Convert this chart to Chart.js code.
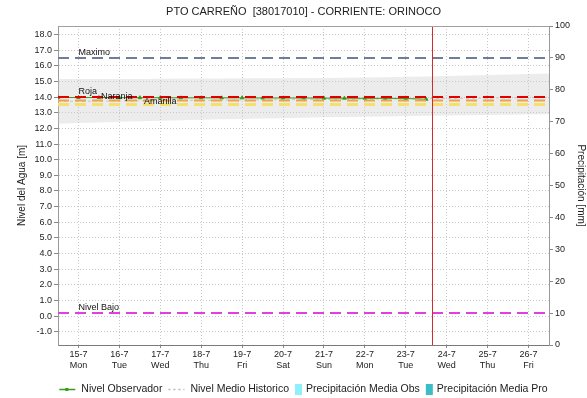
<!DOCTYPE html>
<html>
<head>
<meta charset="utf-8">
<title>PTO CARREÑO</title>
<script src="https://cdn.jsdelivr.net/npm/chart.js@4.4.1/dist/chart.umd.min.js"></script>
<style>
  body { margin: 0; background: #fff; }
  #marco { width: 587px; height: 398px; position: relative; }
</style>
</head>
<body>
<div id="marco"><canvas id="grafico"></canvas></div>
<script>
// dias del periodo (el eje x va en dias desde el 15-7)
const dias = ['15-7', '16-7', '17-7', '18-7', '19-7', '20-7', '21-7', '22-7', '23-7', '24-7', '25-7', '26-7'];
const diasSemana = ['Mon', 'Tue', 'Wed', 'Thu', 'Fri', 'Sat', 'Sun', 'Mon', 'Tue', 'Wed', 'Thu', 'Fri'];

// nivel observado cada 12 horas
const tiempoObs = [-0.5, 0, 0.5, 1, 1.5, 2, 2.5, 3, 3.5, 4, 4.5, 5, 5.5, 6, 6.5, 7, 7.5, 8, 8.5];
const nivelObs = [13.97, 13.97, 13.97, 13.96, 13.96, 13.96, 13.95, 13.95, 13.95, 13.95, 13.94, 13.94, 13.94, 13.93, 13.93, 13.92, 13.92, 13.91, 13.86];

// historico: rango y media
const tiempoHist = [-0.5, 0.5, 1.5, 2.5, 3.5, 4.5, 5.5, 6.5, 7.5, 8.5, 9.5, 10.5, 11.5];
const histMax = [15.15, 15.15, 15.16, 15.18, 15.19, 15.2, 15.22, 15.24, 15.27, 15.31, 15.37, 15.44, 15.5];
const histMin = [12.3, 12.38, 12.45, 12.52, 12.58, 12.63, 12.68, 12.72, 12.76, 12.8, 12.84, 12.87, 12.9];
const histMedio = [13.72, 13.74, 13.76, 13.78, 13.8, 13.82, 13.84, 13.86, 13.88, 13.9, 13.92, 13.95, 13.98];

// precipitacion (mm)
const precipObs = [0, 0, 0, 0, 0, 0, 0, 0, 0];
const precipPro = [0, 0, 0];

// umbrales de alerta (m)
const umbralMaximo = 16.5;
const umbralRoja = 14.0;
const umbralNaranja = 13.78;
const umbralAmarilla = 13.53;
const umbralBajo = 0.2;

const horaActual = 8.64;

const ticksNivel = [-1, 0, 1, 2, 3, 4, 5, 6, 7, 8, 9, 10, 11, 12, 13, 14, 15, 16, 17, 18];
const ticksPrecip = [0, 10, 20, 30, 40, 50, 60, 70, 80, 90, 100];

const FUENTE = '"Liberation Sans", Arial, sans-serif';
Chart.defaults.font.family = FUENTE;
Chart.defaults.color = '#222';

function horizontal(valor) {
  return [{ x: -0.5, y: valor }, { x: 11.5, y: valor }];
}
function puntos(xs, ys) {
  return xs.map((x, i) => ({ x: x, y: ys[i] }));
}

const umbrales = [
  { nombre: 'Maximo', valor: umbralMaximo, color: '#6f7d9c', dx: 0, dy: -2.5 },
  { nombre: 'Roja', valor: umbralRoja, color: '#e00000', dx: 0, dy: -3 },
  { nombre: 'Naranja', valor: umbralNaranja, color: '#f0a050', dx: 0.55, dy: -2 },
  { nombre: 'Amarilla', valor: umbralAmarilla, color: '#f5e06a', dx: 1.6, dy: 0 },
  { nombre: 'Nivel Bajo', valor: umbralBajo, color: '#e040e0', dx: 0, dy: -3 }
];

const datasets = [];
umbrales.forEach(u => {
  datasets.push({
    type: 'line', label: u.nombre, data: horizontal(u.valor), yAxisID: 'y',
    borderColor: u.color, borderWidth: u.nombre === 'Amarilla' ? 3 : 2,
    borderDash: [11, 6], pointRadius: 0, fill: false
  });
});
datasets.push({
  type: 'line', label: 'Nivel Observador', data: puntos(tiempoObs, nivelObs), yAxisID: 'y',
  borderColor: '#3a9a1a', backgroundColor: '#3a9a1a', borderWidth: 1,
  pointStyle: 'triangle', pointRadius: 2, fill: false
});
datasets.push({
  type: 'line', label: 'Nivel Medio Historico', data: puntos(tiempoHist, histMedio), yAxisID: 'y',
  borderColor: '#c8c8c8', borderWidth: 1, borderDash: [3, 3], pointRadius: 0, fill: false
});
datasets.push({
  type: 'bar', label: 'Precipitación Media Obs', data: puntos([0, 1, 2, 3, 4, 5, 6, 7, 8], precipObs),
  yAxisID: 'y1', backgroundColor: '#8ef0fa', borderWidth: 0
});
datasets.push({
  type: 'bar', label: 'Precipitación Media Pro', data: puntos([9, 10, 11], precipPro),
  yAxisID: 'y1', backgroundColor: '#3cbcc4', borderWidth: 0
});
datasets.push({
  type: 'line', label: 'histMax', data: puntos(tiempoHist, histMax), yAxisID: 'y',
  borderWidth: 0, pointRadius: 0, fill: false, cubicInterpolationMode: 'monotone'
});
datasets.push({
  type: 'line', label: 'histMin', data: puntos(tiempoHist, histMin), yAxisID: 'y',
  borderWidth: 0, pointRadius: 0, fill: '-1', backgroundColor: 'rgba(200,200,200,0.34)',
  cubicInterpolationMode: 'monotone'
});

// entradas de la leyenda (se dibuja a mano debajo del eje x)
const leyenda = [
  { texto: 'Nivel Observador', tipo: 'linea', color: '#3a9a1a', dash: [] },
  { texto: 'Nivel Medio Historico', tipo: 'linea', color: '#b8b8b8', dash: [2, 3] },
  { texto: 'Precipitación Media Obs', tipo: 'caja', color: '#8ef0fa' },
  { texto: 'Precipitación Media Pro', tipo: 'caja', color: '#3cbcc4' }
];

// titulo, marco, textos de umbrales, linea de hora actual y leyenda
const extras = {
  id: 'extras',
  beforeDraw(chart) {
    const ctx = chart.ctx, a = chart.chartArea;
    ctx.save();
    ctx.font = '11px ' + FUENTE;
    ctx.fillStyle = '#222';
    ctx.textAlign = 'center';
    ctx.textBaseline = 'middle';
    ctx.fillText('PTO CARREÑO  [38017010] - CORRIENTE: ORINOCO', (a.left + a.right) / 2, 12);
    ctx.restore();
  },
  afterDatasetsDraw(chart) {
    const ctx = chart.ctx, a = chart.chartArea;
    const sx = chart.scales.x, sy = chart.scales.y;
    ctx.save();
    ctx.setLineDash([]);
    ctx.font = '9px ' + FUENTE;
    ctx.fillStyle = '#111';
    ctx.textAlign = 'left';
    ctx.textBaseline = 'alphabetic';
    umbrales.forEach(u => {
      ctx.fillText(u.nombre, sx.getPixelForValue(u.dx), sy.getPixelForValue(u.valor) + u.dy);
    });
    const xh = Math.round(sx.getPixelForValue(horaActual)) + 0.5;
    ctx.strokeStyle = '#d42a2a';
    ctx.lineWidth = 1;
    ctx.beginPath();
    ctx.moveTo(xh, a.top);
    ctx.lineTo(xh, a.bottom);
    ctx.stroke();
    ctx.strokeStyle = '#a0a0a0';
    ctx.beginPath();
    ctx.moveTo(a.left, a.top + 0.5);
    ctx.lineTo(a.right, a.top + 0.5);
    ctx.stroke();
    ctx.restore();
  },
  afterDraw(chart) {
    const ctx = chart.ctx, a = chart.chartArea;
    ctx.save();
    ctx.font = '10.5px ' + FUENTE;
    ctx.textBaseline = 'middle';
    ctx.textAlign = 'left';
    const anchos = leyenda.map(l => (l.tipo === 'linea' ? 18 : 7) + 4 + ctx.measureText(l.texto).width);
    const sep = 6;
    const total = anchos.reduce((s, w) => s + w, 0) + sep * (leyenda.length - 1);
    let x = (a.left + a.right) / 2 - total / 2;
    const y = 389;
    leyenda.forEach((l, i) => {
      if (l.tipo === 'linea') {
        ctx.strokeStyle = l.color;
        ctx.lineWidth = 1.5;
        ctx.setLineDash(l.dash);
        ctx.beginPath();
        ctx.moveTo(x, y + 0.5);
        ctx.lineTo(x + 16, y + 0.5);
        ctx.stroke();
        ctx.setLineDash([]);
        if (l.dash.length === 0) {
          ctx.fillStyle = l.color;
          ctx.fillRect(x + 6, y - 1, 3, 3);
        }
        x += 18 + 4;
      } else {
        ctx.fillStyle = l.color;
        ctx.fillRect(x, y - 5, 7, 11);
        x += 7 + 4;
      }
      ctx.fillStyle = '#222';
      ctx.fillText(l.texto, x, y);
      x += anchos[i] - ((l.tipo === 'linea' ? 18 : 7) + 4) + sep;
    });
    ctx.restore();
  }
};

new Chart(document.getElementById('grafico'), {
  data: { datasets: datasets },
  options: {
    responsive: true,
    maintainAspectRatio: false,
    animation: false,
    layout: { padding: { top: 26, left: 16, right: 0, bottom: 29 } },
    plugins: {
      title: { display: false },
      tooltip: { enabled: false },
      legend: { display: false }
    },
    scales: {
      x: {
        type: 'linear',
        min: -0.5,
        max: 11.5,
        offset: false,
        afterBuildTicks: (s) => { s.ticks = dias.map((d, i) => ({ value: i })); },
        afterFit: (s) => { s.height = 24; },
        ticks: {
          font: { size: 9 },
          color: '#222',
          padding: 1,
          maxRotation: 0,
          callback: (v) => [dias[v], diasSemana[v]]
        },
        grid: { color: '#c8c8c8', offset: false, tickLength: 3, tickColor: '#888', tickBorderDash: [] },
        border: { display: true, color: '#7a7a7a', width: 1, dash: [1, 2] }
      },
      y: {
        position: 'left',
        min: -1.84,
        max: 18.54,
        afterBuildTicks: (s) => { s.ticks = ticksNivel.map(v => ({ value: v })); },
        afterFit: (s) => { s.width = 42; },
        title: { display: true, text: 'Nivel del Agua [m]', font: { size: 10 }, color: '#222', padding: 0 },
        ticks: { font: { size: 9 }, color: '#222', padding: 2, callback: (v) => v.toFixed(1) },
        grid: { color: '#c8c8c8', tickLength: 4, tickColor: '#888', tickBorderDash: [] },
        border: { display: true, color: '#9a9a9a', width: 1, dash: [1, 2] }
      },
      y1: {
        position: 'right',
        min: 0,
        max: 100,
        afterBuildTicks: (s) => { s.ticks = ticksPrecip.map(v => ({ value: v })); },
        afterFit: (s) => { s.width = 38; },
        title: { display: true, text: 'Precipitación [mm]', font: { size: 10 }, color: '#222', padding: 0 },
        ticks: { font: { size: 9 }, color: '#222', padding: 2 },
        grid: { drawOnChartArea: false, tickLength: 4, color: '#888' },
        border: { display: true, color: '#9a9a9a', width: 1 }
      }
    }
  },
  plugins: [extras]
});
</script>
</body>
</html>
